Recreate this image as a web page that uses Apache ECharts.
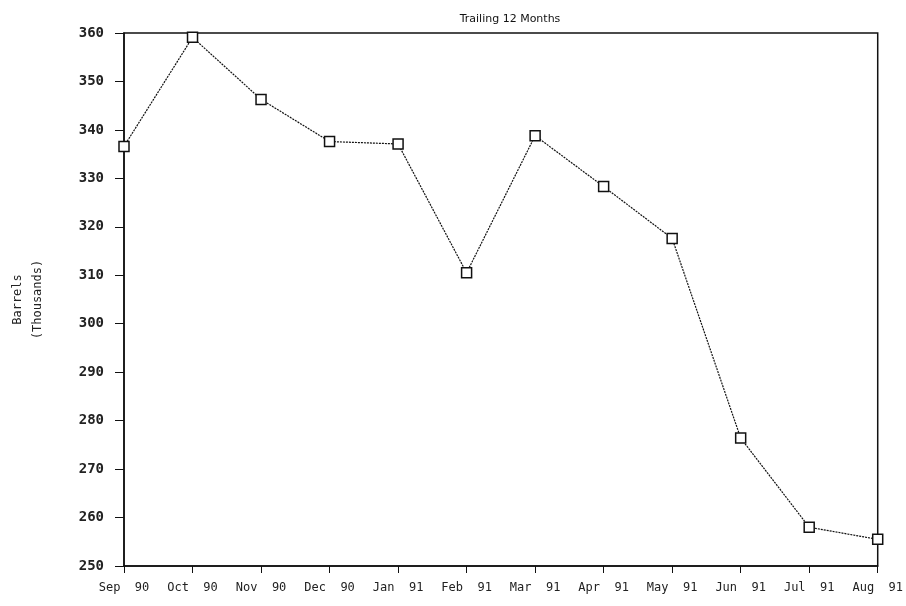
<!DOCTYPE html>
<html>
<head>
<meta charset="utf-8">
<script src="https://cdn.jsdelivr.net/npm/echarts@6/dist/echarts.min.js"></script>
<style>
  html, body { margin: 0; padding: 0; background: #fff; }
  #chart { width: 906px; height: 606px; }
</style>
</head>
<body>
<div id="chart"></div>
<script>
const months = ['Sep 90', 'Oct 90', 'Nov 90', 'Dec 90', 'Jan 91', 'Feb 91',
  'Mar 91', 'Apr 91', 'May 91', 'Jun 91', 'Jul 91', 'Aug 91'];
const barrels = [336.6, 359.1, 346.3, 337.6, 337.1, 310.5,
  338.8, 328.3, 317.6, 276.4, 258.0, 255.5];

const mono = 'DejaVu Sans Mono';
const chart = echarts.init(document.getElementById('chart'));

chart.setOption({
  animation: false,
  backgroundColor: '#fff',
  title: {
    text: 'Trailing 12 Months',
    left: 505,
    top: 9,
    textAlign: 'center',
    textStyle: { fontFamily: 'DejaVu Sans', fontSize: 11, fontWeight: 'normal', color: '#111' }
  },
  grid: {
    left: 123, right: 28, top: 33, bottom: 40,
    show: true,
    borderColor: '#111',
    borderWidth: 1.5
  },
  xAxis: {
    type: 'category',
    data: months,
    boundaryGap: false,
    axisLine: { lineStyle: { color: '#111', width: 1.5 } },
    axisTick: { alignWithLabel: true, interval: 0, length: 7, lineStyle: { color: '#111' } },
    axisLabel: {
      interval: 0,
      hideOverlap: false,
      fontFamily: mono, fontSize: 12, color: '#222', margin: 16,
      // the old plot spaces month and year widely
      formatter: v => v.replace(' ', '  ')
    },
    splitLine: { show: false }
  },
  yAxis: {
    type: 'value',
    min: 250,
    max: 360,
    interval: 10,
    name: 'Barrels\n(Thousands)',
    nameLocation: 'middle',
    nameGap: 76,
    nameRotate: 90,
    nameTextStyle: { fontFamily: mono, fontSize: 12, color: '#222', lineHeight: 20 },
    axisLine: { show: true, lineStyle: { color: '#111', width: 1.5 } },
    axisTick: { show: true, length: 9, lineStyle: { color: '#111' } },
    axisLabel: { fontFamily: mono, fontSize: 14, fontWeight: 'bold', color: '#222', margin: 20 },
    splitLine: { show: false }
  },
  series: [{
    type: 'line',
    data: barrels,
    symbol: 'rect',
    symbolSize: 10,
    lineStyle: { color: '#111', width: 1.2, type: [2, 1] },
    itemStyle: { color: '#fff', borderColor: '#111', borderWidth: 1.5 }
  }]
});
</script>
</body>
</html>
